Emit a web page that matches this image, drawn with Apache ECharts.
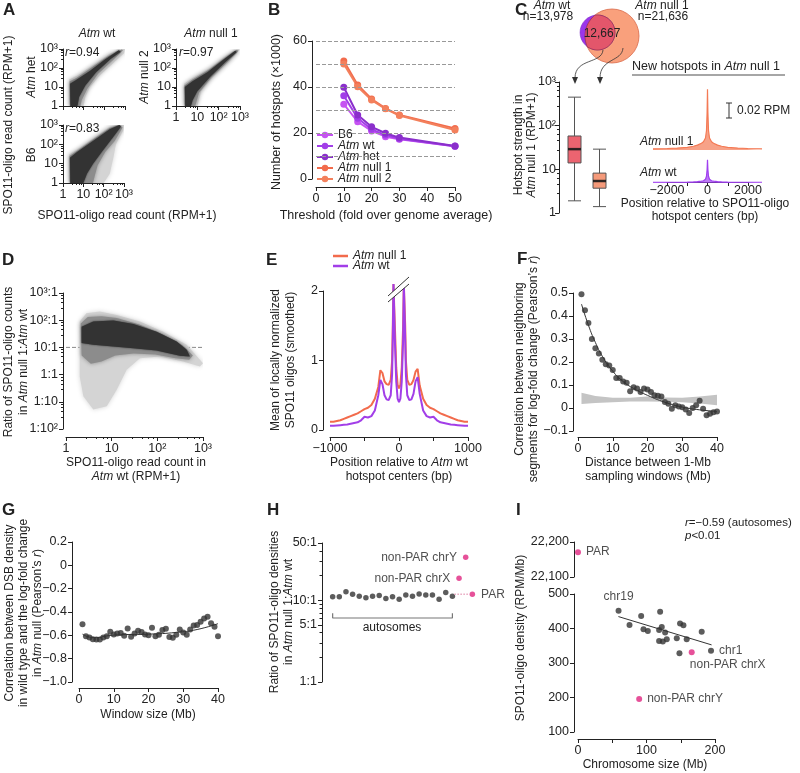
<!DOCTYPE html>
<html>
<head>
<meta charset="utf-8">
<script src="https://cdn.jsdelivr.net/npm/echarts@6/dist/echarts.min.js"></script>
<style>
  html, body { margin: 0; padding: 0; background: #fff; }
  #chart { width: 800px; height: 773px; }
</style>
</head>
<body>
<div id="chart"></div>
<script>
const FONT = 'Liberation Sans, Arial, Helvetica, sans-serif'
const INK = '#222'
const ORANGE = '#f26b4c'
const PURPLE = '#a23ee8'
const PINK = '#e0257f'
const DOT = '#333'
const CORE = '#333'
const MID = '#8c8c8c'
const HALO = '#d4d4d4'

// ---- A: read-count clouds (outline of dense core, mid and sparse halo, RPM+1) ----
const aHetCore = [[2.3, 1], [2.2, 15], [4, 22], [20, 70], [100, 260], [500, 850], [620, 720], [200, 300], [40, 60], [12, 12], [6, 3], [5, 1]]
const aHetMid = [[2.2, 1], [2.1, 20], [4.5, 30], [25, 110], [150, 420], [700, 950], [800, 850], [250, 250], [50, 50], [15, 8], [8, 2], [7, 1]]
const aHetHalo = [[2.1, 1], [2.0, 25], [5, 40], [30, 150], [200, 600], [800, 1000], [1000, 1000], [900, 600], [300, 200], [60, 40], [20, 10], [12, 3], [10, 1]]
const aNullCore = [[2.7, 1], [2.6, 10], [6, 20], [30, 60], [150, 250], [600, 800], [700, 700], [200, 200], [40, 35], [10, 6], [6, 2], [5, 1]]
const aNullMid = [[2.6, 1], [2.5, 12], [6, 25], [35, 80], [180, 320], [700, 900], [850, 800], [250, 200], [45, 32], [12, 5], [8, 1]]
const aNullHalo = [[2.5, 1], [2.4, 15], [6, 30], [40, 100], [200, 400], [800, 1000], [1000, 900], [300, 200], [50, 30], [15, 6], [10, 1]]
const aB6Core = [[2.3, 1], [2.2, 20], [5, 40], [30, 150], [200, 600], [600, 1000], [700, 800], [300, 250], [80, 40], [30, 10], [15, 3], [10, 1]]
const aB6Mid = [[2.2, 1], [2.1, 25], [5.5, 50], [35, 200], [200, 700], [600, 1000], [850, 750], [350, 150], [120, 40], [50, 8], [35, 2], [30, 1]]
const aB6Halo = [[2.1, 1], [2.0, 30], [6, 60], [40, 250], [200, 800], [600, 1000], [1000, 1000], [900, 500], [400, 100], [300, 20], [200, 3], [100, 1]]

// ---- B: number of hotspots (x1000) ----
const thresholds = [10, 15, 20, 25, 30, 50]
const bB6 = [32.5, 24.9, 20.9, 18.4, 17.3, 14.2]
const bAtmWt = [36.2, 26.4, 21.6, 19.1, 17.5, 14.2]
const bAtmHet = [39.9, 27.8, 22.7, 19.9, 18.0, 14.3]
const bAtmNull1 = [51.3, 40.9, 34.8, 30.7, 27.8, 22.0]
const bAtmNull2 = [50.0, 40.1, 34.3, 30.5, 27.6, 21.3]
const bGuides = [10, 20, 30, 40, 50, 60]

// ---- C: box stats [min, Q1, median, Q3, max] and new-hotspot profiles ----
const boxCats = ['shared', 'new']
const boxStats = [[1.9, 14, 29, 58, 450], [1.4, 3.7, 5.4, 8.2, 29]]
const boxColors = ['#ec6470', '#f59a7a']
const cPos = [-2700, -2000, -1500, -1000, -700, -500, -300, -200, -100, -50, -20, 0, 20, 50, 100, 200, 300, 500, 700, 1000, 1500, 2000, 2700]
const cNull = [0.0015, 0.002, 0.0025, 0.0035, 0.005, 0.0065, 0.009, 0.011, 0.016, 0.026, 0.05, 0.081, 0.05, 0.026, 0.016, 0.011, 0.009, 0.0065, 0.005, 0.0035, 0.0025, 0.002, 0.0015]
const cWt = [0.001, 0.001, 0.001, 0.0012, 0.0015, 0.0018, 0.0025, 0.003, 0.005, 0.009, 0.018, 0.031, 0.018, 0.009, 0.005, 0.003, 0.0025, 0.0018, 0.0015, 0.0012, 0.001, 0.001, 0.001]

// ---- D: ratio cloud (x: RPM+1 in wt, y: null1/wt ratio) ----
const dCore = [[2.2, 58], [3.96, 89], [10.9, 97], [29.7, 73], [96, 38], [264, 16.5], [437, 8.2], [517, 4.6], [312, 4.9], [96, 7.7], [29.7, 9.4], [10.9, 10.8], [3.96, 12.4], [2.2, 14.4]]
const dMid = [[2.1, 75], [3, 130], [6, 140], [13, 120], [40, 70], [130, 30], [350, 12], [600, 5], [500, 3.5], [250, 4], [90, 5.5], [30, 6], [12, 5], [6, 3], [3.5, 2.5], [2.2, 5]]
const dHalo = [[2.0, 89], [2.8, 180], [5.5, 207], [12.9, 156], [41.6, 89], [135, 38], [437, 12.4], [1000, 2.6], [855, 2], [369, 3.05], [114, 4.6], [41.6, 4.0], [21.3, 1.5], [12.9, 0.28], [7.8, 0.068], [3.96, 0.052], [2.4, 0.16], [2.0, 0.86]]

// ---- E: locally normalized SPO11 oligos ----
const ePos = [-1000, -950, -900, -850, -800, -750, -700, -650, -600, -550, -500, -450, -400, -350, -300, -270, -240, -210, -180, -150, -120, -100, -90, -80, -70, -60, -40, -20, 0,
  20, 40, 60, 70, 80, 90, 100, 120, 150, 180, 210, 240, 270, 300, 350, 400, 450, 500, 550, 600, 650, 700, 750, 800, 850, 900, 950, 1000]
const eWt = [0.06, 0.06, 0.065, 0.07, 0.075, 0.08, 0.09, 0.1, 0.11, 0.14, 0.19, 0.18, 0.2, 0.28, 0.5, 0.72, 0.66, 0.5, 0.44, 0.43, 0.5, 0.8, 1.3, 2.1, 2.1, 1.3, 0.7, 0.45, 0.4,
  0.45, 0.7, 1.3, 2.1, 2.1, 1.3, 0.8, 0.5, 0.43, 0.44, 0.52, 0.7, 0.76, 0.52, 0.28, 0.2, 0.18, 0.19, 0.14, 0.11, 0.1, 0.09, 0.08, 0.075, 0.07, 0.065, 0.06, 0.06]
const eNull = [0.12, 0.12, 0.13, 0.14, 0.16, 0.18, 0.2, 0.22, 0.24, 0.27, 0.3, 0.32, 0.36, 0.45, 0.62, 0.86, 0.82, 0.7, 0.66, 0.65, 0.72, 1.0, 1.5, 2.1, 2.1, 1.5, 0.9, 0.65, 0.6,
  0.65, 0.9, 1.5, 2.1, 2.1, 1.5, 1.0, 0.72, 0.65, 0.66, 0.72, 0.84, 0.88, 0.64, 0.45, 0.36, 0.32, 0.3, 0.27, 0.24, 0.22, 0.2, 0.18, 0.16, 0.14, 0.13, 0.12, 0.12]

// ---- F: neighbour correlation vs distance ----
const fDist = [1, 2, 3, 4, 5, 6, 7, 8, 9, 10, 11, 12, 13, 14, 15, 16, 17, 18, 19, 20, 21, 22, 23, 24, 25, 26, 27, 28, 29, 30, 31, 32, 33, 34, 35, 36, 37, 38, 39, 40]
const fCorr = [0.495, 0.425, 0.37, 0.30, 0.26, 0.237, 0.21, 0.19, 0.185, 0.165, 0.13, 0.13, 0.115, 0.11, 0.073, 0.09, 0.085, 0.07, 0.085, 0.08,
  0.07, 0.055, 0.053, 0.05, 0.026, 0.018, -0.003, 0.012, 0.006, 0.003, -0.006, -0.022, 0.0, 0.012, 0.032, -0.003, -0.032, -0.025, -0.018, -0.015]
const fFitX = [1, 3, 5, 7, 10, 13, 16, 20, 25, 30, 35, 40]
const fFitY = [0.452, 0.36, 0.285, 0.225, 0.16, 0.115, 0.085, 0.055, 0.025, 0.004, -0.008, -0.015]
const fBandX = [1, 5, 10, 15, 20, 25, 30, 35, 40]
const fBandLo = [0.017, 0.022, 0.025, 0.028, 0.028, 0.027, 0.025, 0.02, 0.012]
const fBandHi = [0.066, 0.052, 0.045, 0.045, 0.05, 0.046, 0.045, 0.05, 0.058]

// ---- G: correlation vs window size ----
const gWin = [1, 2, 3, 4, 5, 6, 7, 8, 9, 10, 11, 12, 13, 14, 15, 16, 17, 18, 19, 20, 21, 22, 23, 24, 25, 26, 27, 28, 29, 30, 31, 32, 33, 34, 35, 36, 37, 38, 39, 40]
const gCorr = [-0.506, -0.607, -0.618, -0.633, -0.636, -0.636, -0.618, -0.607, -0.57, -0.592, -0.584, -0.581, -0.604, -0.541, -0.612, -0.584, -0.56, -0.572, -0.592, -0.6,
  -0.535, -0.607, -0.595, -0.555, -0.544, -0.615, -0.621, -0.595, -0.55, -0.575, -0.595, -0.55, -0.515, -0.512, -0.483, -0.455, -0.44, -0.497, -0.527, -0.607]
const gFitX = [1, 3, 5, 8, 12, 20, 28, 34, 40]
const gFitY = [-0.59, -0.615, -0.62, -0.605, -0.595, -0.59, -0.575, -0.55, -0.5]

// ---- H: ratio of densities per chromosome ----
const hAutoPos = [1, 2, 3, 4, 5, 6, 7, 8, 9, 10, 11, 12, 13, 14, 15, 16, 17, 18, 19]
const hAutoRatio = [11.0, 11.0, 12.7, 11.8, 11.2, 10.7, 11.2, 11.4, 10.5, 11.0, 10.3, 11.6, 11.2, 11.9, 11.6, 11.6, 10.3, 12.4, 11.2]
const hSexNames = ['non-PAR chrX', 'non-PAR chrY', 'PAR']
const hSexPos = [20, 21, 22]
const hSexRatio = [18.5, 33.4, 11.8]

// ---- I: density vs chromosome size ----
const iAutoNames = ['chr19', '', '', '', '', '', '', '', '', '', '', '', '', '', '', '', '', '', 'chr1']
const iAutoSize = [59.2, 75.2, 92.2, 95.6, 101.9, 118.4, 119.9, 122.3, 118.4, 123.8, 127.2, 129.6, 144.2, 149.0, 153.9, 158.7, 148.1, 180.6, 194.2]
const iAutoDensity = [451.8, 410.4, 436.4, 397.8, 393.0, 395.9, 448.9, 404.5, 364.1, 362.2, 388.2, 369.0, 371.8, 414.2, 409.4, 369.0, 328.5, 390.8, 335.7]
const iParSize = 0
const iParDensity = 22171
const iSexNames = ['non-PAR chrX', 'non-PAR chrY']
const iSexSize = [166, 89.3]
const iSexDensity = [331.3, 195.4]
const iFitX = [59, 195]
const iFitY = [434.6, 352.5]

// ---------- helpers ----------
const SUP = ['', '', '²', '³']
const expLabel = e => e === 0 ? '1' : e === 1 ? '10' : '10' + SUP[e]
const pow10 = v => expLabel(Math.round(Math.log10(v)))
const ratioLabel = v => {
  const e = Math.round(Math.log10(v))
  return e >= 0 ? expLabel(e) + ':1' : '1:' + expLabel(-e)
}
const minus = v => String(v).replace('-', '\u2212')
const dec1 = v => {
  const r = Math.round(v * 10) / 10
  if (r === 0) return '0'
  return (r < 0 ? '\u2212' : '') + Math.abs(r).toFixed(1)
}
const it = s => s.replace(/Atm/g, '{i|Atm}')
const pairs = (xs, ys) => xs.map((x, i) => [x, ys[i]])

function merge(a, b) {
  const out = Object.assign({}, a)
  for (const k in b) {
    const v = b[k]
    if (v && typeof v === 'object' && !Array.isArray(v) && out[k] && typeof out[k] === 'object' && !Array.isArray(out[k])) out[k] = merge(out[k], v)
    else out[k] = v
  }
  return out
}
function ax(extra) {
  return merge({
    axisLine: { show: true, onZero: false, lineStyle: { color: INK, width: 1 } },
    axisTick: { show: true, length: 4, lineStyle: { color: INK } },
    axisLabel: { color: INK, fontSize: 12.5, fontFamily: FONT, margin: 5 },
    splitLine: { show: false }
  }, extra)
}
const logMinor = { show: true, splitNumber: 5, length: 2, lineStyle: { color: INK } }

function poly(i, pts, fill, blur) {
  return {
    type: 'custom', xAxisIndex: i, yAxisIndex: i, silent: true, clip: true, z: 2,
    data: [pts[0]],
    renderItem: (params, api) => ({
      type: 'polygon',
      shape: { points: pts.map(p => api.coord(p)) },
      style: { fill, shadowBlur: blur, shadowColor: fill }
    })
  }
}

function txt(x, y, text, o = {}) {
  const size = o.size || 12
  return {
    type: 'text', x, y, rotation: o.rot ? Math.PI / 2 : 0, silent: true, z: 100,
    style: {
      text, fontSize: size, fontFamily: FONT, fontWeight: o.bold ? 'bold' : 'normal', fill: INK,
      align: o.align || 'center', verticalAlign: o.va || 'middle', lineHeight: o.lh || 14,
      rich: { i: { fontStyle: 'italic', fontSize: size, fontFamily: FONT, fill: INK, lineHeight: o.lh || 14 } }
    }
  }
}
const seg = (x1, y1, x2, y2, color = '#333', w = 1) => ({ type: 'line', silent: true, z: 100, shape: { x1, y1, x2, y2 }, style: { stroke: color, lineWidth: w } })

// lens shape for the Venn overlap
function lens(c1, c2) {
  const pts = []
  for (const [a, b] of [[c1, c2], [c2, c1]]) {
    for (let k = 0; k < 120; k++) {
      const t = k / 120 * Math.PI * 2
      const p = [a.x + a.r * Math.cos(t), a.y + a.r * Math.sin(t)]
      if (Math.hypot(p[0] - b.x, p[1] - b.y) <= b.r + 0.01) pts.push(p)
    }
  }
  const cx = pts.reduce((s, p) => s + p[0], 0) / pts.length
  const cy = pts.reduce((s, p) => s + p[1], 0) / pts.length
  return pts.sort((p, q) => Math.atan2(p[1] - cy, p[0] - cx) - Math.atan2(q[1] - cy, q[0] - cx))
}

// ---------- layout ----------
const grids = [
  { left: 63, top: 49, width: 62, height: 57 },    // 0 A het vs wt
  { left: 176, top: 49, width: 64, height: 57 },   // 1 A null2 vs null1
  { left: 63, top: 125, width: 61, height: 58 },   // 2 A B6 vs wt
  { left: 316, top: 41, width: 139, height: 138 }, // 3 B
  { left: 562, top: 82, width: 50, height: 131 },  // 4 C box
  { left: 653, top: 80, width: 109, height: 70 },  // 5 C null profile
  { left: 653, top: 150, width: 109, height: 33 }, // 6 C wt profile
  { left: 667, top: 150, width: 81, height: 32 },  // 7 C profile axis
  { left: 66, top: 293, width: 137, height: 136 }, // 8 D
  { left: 330, top: 291, width: 138, height: 139 },// 9 E
  { left: 578, top: 293, width: 139, height: 138 },// 10 F
  { left: 79, top: 542, width: 139, height: 140 }, // 11 G
  { left: 326, top: 543, width: 153, height: 139 },// 12 H
  { left: 578, top: 542, width: 137, height: 35 }, // 13 I upper
  { left: 578, top: 594, width: 137, height: 138 } // 14 I lower
]

const xAxis = [
  ax({ gridIndex: 0, type: 'log', min: 1, max: 1000, splitNumber: 3, axisLabel: { show: false }, minorTick: logMinor }),
  ax({ gridIndex: 1, type: 'log', min: 1, max: 1000, splitNumber: 3, axisLabel: { formatter: pow10 }, minorTick: logMinor }),
  ax({ gridIndex: 2, type: 'log', min: 1, max: 1000, splitNumber: 3, axisLabel: { formatter: pow10 }, minorTick: logMinor }),
  ax({ gridIndex: 3, type: 'value', min: 0, max: 50, interval: 10, offset: 8 }),
  { gridIndex: 4, type: 'category', data: boxCats, show: false },
  { gridIndex: 5, type: 'value', min: -2700, max: 2700, show: false },
  { gridIndex: 6, type: 'value', min: -2700, max: 2700, show: false },
  ax({ gridIndex: 7, type: 'value', min: -2000, max: 2000, interval: 1000, axisLabel: { margin: 2, formatter: v => v % 2000 === 0 ? minus(v) : '' } }),
  ax({ gridIndex: 8, type: 'log', min: 1, max: 1000, splitNumber: 3, offset: 8, axisLabel: { formatter: pow10 }, minorTick: logMinor }),
  ax({ gridIndex: 9, type: 'value', min: -1000, max: 1000, interval: 500, offset: 7, axisLabel: { formatter: v => v % 1000 === 0 ? minus(v) : '' } }),
  ax({ gridIndex: 10, type: 'value', min: 0, max: 40, interval: 10, offset: 6 }),
  ax({ gridIndex: 11, type: 'value', min: 0, max: 40, interval: 10, offset: 6 }),
  { gridIndex: 12, type: 'value', min: 0, max: 23, show: false },
  { gridIndex: 13, type: 'value', min: 0, max: 200, show: false },
  ax({ gridIndex: 14, type: 'value', min: 0, max: 200, interval: 50, offset: 7, axisLabel: { formatter: v => v % 100 === 0 ? String(v) : '' } })
]

const yAxis = [
  ax({ gridIndex: 0, type: 'log', min: 1, max: 1000, splitNumber: 3, axisLabel: { formatter: pow10 }, minorTick: logMinor }),
  ax({ gridIndex: 1, type: 'log', min: 1, max: 1000, splitNumber: 3, axisLabel: { formatter: pow10 }, minorTick: logMinor }),
  ax({ gridIndex: 2, type: 'log', min: 1, max: 1000, splitNumber: 3, axisLabel: { formatter: pow10 }, minorTick: logMinor }),
  ax({ gridIndex: 3, type: 'value', min: 0, max: 60, interval: 20, offset: 4 }),
  ax({ gridIndex: 4, type: 'log', min: 1, max: 1000, splitNumber: 3, offset: 3, axisLabel: { margin: 3, formatter: pow10 }, minorTick: logMinor }),
  { gridIndex: 5, type: 'value', min: 0, max: 0.0933, show: false },
  { gridIndex: 6, type: 'value', min: 0, max: 0.044, show: false },
  { gridIndex: 7, type: 'value', min: 0, max: 1, show: false },
  ax({ gridIndex: 8, type: 'log', min: 0.01, max: 1000, splitNumber: 5, offset: 3, axisLabel: { formatter: ratioLabel }, minorTick: logMinor }),
  ax({ gridIndex: 9, type: 'value', min: 0, max: 2, interval: 1, offset: 7 }),
  ax({ gridIndex: 10, type: 'value', min: -0.1, max: 0.5, interval: 0.1, offset: 5, axisLabel: { formatter: dec1 } }),
  ax({ gridIndex: 11, type: 'value', min: -1, max: 0.2, interval: 0.2, offset: 7, axisLabel: { formatter: dec1 } }),
  ax({ gridIndex: 12, type: 'log', position: 'left', min: 1, max: 50, offset: 4,
    axisLabel: { customValues: [1, 5, 10, 50], formatter: v => Math.round(v) + ':1' }, axisTick: { customValues: [1, 5, 10, 50] } }),
  ax({ gridIndex: 13, type: 'value', min: 22100, max: 22200, interval: 100, offset: 4, axisLabel: { formatter: v => v.toLocaleString('en-US') } }),
  ax({ gridIndex: 14, type: 'value', min: 100, max: 500, interval: 100, offset: 4 }),
  ax({ gridIndex: 12, type: 'log', position: 'left', min: 1, max: 50, offset: 4, axisLine: { show: false }, axisLabel: { show: false },
    axisTick: { length: 2.5, customValues: [2, 3, 4, 6, 7, 8, 9, 20, 30, 40] } })
]

// ---------- series ----------
const series = []
// A
;[[aHetHalo, aHetMid, aHetCore], [aNullHalo, aNullMid, aNullCore], [aB6Halo, aB6Mid, aB6Core]].forEach(([halo, mid, core], i) => {
  series.push(poly(i, halo, HALO, 5), poly(i, mid, MID, 4), poly(i, core, CORE, 2))
})

// B
series.push({
  type: 'line', xAxisIndex: 3, yAxisIndex: 3, data: [], silent: true, z: 1,
  markLine: { silent: true, symbol: 'none', label: { show: false }, animation: false,
    lineStyle: { type: 'dashed', color: '#999', width: 1 }, data: bGuides.map(v => ({ yAxis: v })) }
})
const bSets = [
  ['B6', bB6, '#c653f2'], ['Atm wt', bAtmWt, '#a23ee8'], ['Atm het', bAtmHet, '#8a2fcb'],
  ['Atm null 1', bAtmNull1, '#f26b4c'], ['Atm null 2', bAtmNull2, '#f3805c']
]
bSets.forEach(([name, vals, color]) => series.push({
  type: 'line', name, xAxisIndex: 3, yAxisIndex: 3, data: pairs(thresholds, vals),
  symbol: 'circle', symbolSize: 7, lineStyle: { width: 2, color }, itemStyle: { color }, z: 3
}))

// C
series.push({
  type: 'boxplot', xAxisIndex: 4, yAxisIndex: 4, boxWidth: [13, 13],
  data: boxStats.map((s, i) => ({ value: s, itemStyle: { color: boxColors[i], borderColor: '#555', borderWidth: 1 } }))
})
series.push({
  type: 'scatter', xAxisIndex: 4, yAxisIndex: 4, symbol: 'rect', symbolSize: [13, 2.5], z: 5,
  itemStyle: { color: '#111' }, data: boxCats.map((c, i) => [c, boxStats[i][2]])
})
series.push({
  type: 'line', xAxisIndex: 5, yAxisIndex: 5, data: pairs(cPos, cNull), symbol: 'none',
  lineStyle: { width: 1.2, color: '#f47a55' }, areaStyle: { color: '#f47a55', opacity: 0.7 }
})
series.push({
  type: 'line', xAxisIndex: 6, yAxisIndex: 6, data: pairs(cPos, cWt), symbol: 'none',
  lineStyle: { width: 1.2, color: '#a040f0' }, areaStyle: { color: '#a040f0', opacity: 0.7 }
})

// D
series.push({
  type: 'line', xAxisIndex: 8, yAxisIndex: 8, data: [[1, 10], [1000, 10]], symbol: 'none', silent: true,
  lineStyle: { type: 'dashed', color: '#888', width: 1 }, z: 1
})
series.push(poly(8, dHalo, HALO, 5), poly(8, dMid, MID, 4), poly(8, dCore, CORE, 2))

// E
series.push({
  type: 'line', name: 'E Atm null 1', xAxisIndex: 9, yAxisIndex: 9, data: pairs(ePos, eNull), symbol: 'none', clip: false,
  lineStyle: { width: 2, color: ORANGE }, itemStyle: { color: ORANGE }
})
series.push({
  type: 'line', name: 'E Atm wt', xAxisIndex: 9, yAxisIndex: 9, data: pairs(ePos, eWt), symbol: 'none', clip: false,
  lineStyle: { width: 2, color: PURPLE }, itemStyle: { color: PURPLE }
})

// F
const fBand = pairs(fBandX, fBandHi).concat(pairs(fBandX, fBandLo).reverse())
series.push(poly(10, fBand, '#c4c4c4', 0))
series.push({
  type: 'line', xAxisIndex: 10, yAxisIndex: 10, data: pairs(fFitX, fFitY), symbol: 'none', smooth: true,
  lineStyle: { width: 1, color: '#333' }
})
series.push({
  type: 'scatter', xAxisIndex: 10, yAxisIndex: 10, data: pairs(fDist, fCorr), symbolSize: 6, itemStyle: { color: DOT }
})

// G
series.push({
  type: 'line', xAxisIndex: 11, yAxisIndex: 11, data: pairs(gFitX, gFitY), symbol: 'none', smooth: true,
  lineStyle: { width: 1, color: '#333' }
})
series.push({
  type: 'scatter', xAxisIndex: 11, yAxisIndex: 11, data: pairs(gWin, gCorr), symbolSize: 6, itemStyle: { color: DOT }
})

// H
series.push({
  type: 'line', xAxisIndex: 12, yAxisIndex: 12, symbol: 'none', silent: true,
  data: [[1, 6.9], [1, 6.06], [19, 6.06], [19, 6.9]], lineStyle: { color: '#777', width: 1.2 }
})
series.push({
  type: 'line', xAxisIndex: 12, yAxisIndex: 12, symbol: 'none', silent: true,
  data: [[19.3, hSexRatio[2]], [21.5, hSexRatio[2]]], lineStyle: { color: '#e9a7c0', width: 1.5, type: 'dotted' }
})
series.push({
  type: 'scatter', xAxisIndex: 12, yAxisIndex: 12, data: pairs(hAutoPos, hAutoRatio), symbolSize: 5.5, itemStyle: { color: DOT }
})
series.push({
  type: 'scatter', xAxisIndex: 12, yAxisIndex: 12, symbolSize: 5.5, itemStyle: { color: PINK },
  data: hSexPos.map((x, i) => ({
    value: [x, hSexRatio[i]],
    label: { show: true, position: i === 2 ? 'right' : 'left', distance: 6, formatter: hSexNames[i], fontSize: 12, fontFamily: FONT, color: INK }
  }))
})

// I
series.push({
  type: 'scatter', xAxisIndex: 13, yAxisIndex: 13, symbolSize: 6, itemStyle: { color: PINK },
  data: [{ value: [iParSize, iParDensity], label: { show: true, position: 'right', distance: 5, formatter: 'PAR', fontSize: 12, fontFamily: FONT, color: INK } }]
})
series.push({
  type: 'line', xAxisIndex: 14, yAxisIndex: 14, data: pairs(iFitX, iFitY), symbol: 'none', lineStyle: { width: 1, color: '#333' }
})
series.push({
  type: 'scatter', xAxisIndex: 14, yAxisIndex: 14, symbolSize: 6, itemStyle: { color: DOT },
  data: iAutoSize.map((x, i) => ({
    value: [x, iAutoDensity[i]],
    label: { show: iAutoNames[i] !== '', position: i === 0 ? 'top' : 'right', distance: 5, formatter: iAutoNames[i], fontSize: 12, fontFamily: FONT, color: INK }
  }))
})
series.push({
  type: 'scatter', xAxisIndex: 14, yAxisIndex: 14, symbolSize: 6, itemStyle: { color: PINK },
  data: iSexSize.map((x, i) => ({
    value: [x, iSexDensity[i]],
    label: i === 0
      ? { show: true, position: 'bottom', offset: [36, -2], formatter: iSexNames[i], fontSize: 12, fontFamily: FONT, color: INK }
      : { show: true, position: 'right', distance: 5, formatter: iSexNames[i], fontSize: 12, fontFamily: FONT, color: INK }
  }))
})

// ---------- annotations ----------
const gfx = []
;[['A', 3, 3], ['B', 268, 3], ['C', 515, 3], ['D', 2, 253], ['E', 266, 253], ['F', 517, 252], ['G', 2, 503], ['H', 267, 503], ['I', 516, 503]]
  .forEach(([t, x, y]) => gfx.push(txt(x, y, t, { bold: true, size: 17, align: 'left', va: 'top' })))

// A
gfx.push(txt(9, 125, 'SPO11-oligo read count (RPM+1)', { rot: true }))
gfx.push(txt(127, 216, 'SPO11-oligo read count (RPM+1)'))
gfx.push(txt(97, 34, it('Atm wt')), txt(211, 34, it('Atm null 1')))
gfx.push(txt(32, 77, it('Atm het'), { rot: true }), txt(145, 77, it('Atm null 2'), { rot: true }), txt(32, 155, 'B6', { rot: true }))
gfx.push(txt(65, 53, '{i|r}=0.94', { align: 'left' }), txt(179, 53, '{i|r}=0.97', { align: 'left' }), txt(65, 129, '{i|r}=0.83', { align: 'left' }))

// B
gfx.push(txt(277, 112, 'Number of hotspots (×1000)', { rot: true, size: 12.5 }))
gfx.push(txt(386, 216, 'Threshold (fold over genome average)', { size: 12.5 }))

// C Venn
const cNullCircle = { x: 612, y: 36, r: 27 }
const cWtCircle = { x: 597.5, y: 32.5, r: 17.5 }
gfx.push({ type: 'circle', silent: true, z: 50, shape: { cx: cNullCircle.x, cy: cNullCircle.y, r: cNullCircle.r }, style: { fill: '#f9a07c', stroke: '#d9694a', lineWidth: 0.8 } })
gfx.push({ type: 'circle', silent: true, z: 51, shape: { cx: cWtCircle.x, cy: cWtCircle.y, r: cWtCircle.r }, style: { fill: '#9b35ea', stroke: '#7a2ac0', lineWidth: 0.5 } })
gfx.push({ type: 'polygon', silent: true, z: 52, shape: { points: lens(cNullCircle, cWtCircle) }, style: { fill: '#e3566b', stroke: '#8a2a3a', lineWidth: 0.6 } })
gfx.push(txt(602, 34, '12,667'))
gfx.push(txt(552, 6, it('Atm wt')), txt(548, 17, 'n=13,978'))
gfx.push(txt(662, 6, it('Atm null 1')), txt(663, 17, 'n=21,636'))
;[[603, 50, 575], [623, 48, 600]].forEach(([sx, sy, ex]) => {
  gfx.push({ type: 'bezierCurve', silent: true, z: 60,
    shape: { x1: sx, y1: sy, cpx1: sx - 1, cpy1: sy + 14, cpx2: ex, cpy2: 58, x2: ex, y2: 78 },
    style: { stroke: '#333', lineWidth: 0.8, fill: null } })
  gfx.push({ type: 'polygon', silent: true, z: 60, shape: { points: [[ex - 3, 77], [ex + 3, 77], [ex, 84]] }, style: { fill: '#333' } })
})
gfx.push(txt(525, 145, 'Hotspot strength in\n{i|Atm} null 1 (RPM+1)', { rot: true, lh: 13 }))
gfx.push(txt(632, 67, 'New hotspots in {i|Atm} null 1', { align: 'left', size: 12.5 }))
gfx.push(seg(632, 75, 785, 75, '#888', 1.5))
gfx.push(txt(640, 142, it('Atm null 1'), { align: 'left' }), txt(640, 173, it('Atm wt'), { align: 'left' }))
gfx.push(seg(729, 103, 729, 118), seg(726, 103, 732, 103), seg(726, 118, 732, 118))
gfx.push(txt(737, 111, '0.02 RPM', { align: 'left' }))
gfx.push(txt(705, 210, 'Position relative to SPO11-oligo\nhotspot centers (bp)', { lh: 13 }))

// D
gfx.push(txt(16, 362, 'Ratio of SPO11-oligo counts\nin {i|Atm} null 1:{i|Atm} wt', { rot: true, lh: 15 }))
gfx.push(txt(136, 470, 'SPO11-oligo read count in\n{i|Atm} wt (RPM+1)', { lh: 14 }))

// E
gfx.push(txt(283, 360, 'Mean of locally normalized\nSPO11 oligos (smoothed)', { rot: true, lh: 15 }))
gfx.push(txt(399, 470, 'Position relative to {i|Atm} wt\nhotspot centers (bp)', { lh: 14 }))
gfx.push({ type: 'polygon', silent: true, z: 90, shape: { points: [[388, 296], [409, 277], [409, 284], [388, 302]] }, style: { fill: '#fff' } })
gfx.push(seg(388, 296, 409, 277), seg(388, 302, 409, 284))

// F
gfx.push(txt(527, 369, 'Correlation between neighboring\nsegments for log-fold change (Pearson’s {i|r})', { rot: true, lh: 14 }))
gfx.push(txt(648, 470, 'Distance between 1-Mb\nsampling windows (Mb)', { lh: 14 }))

// G
gfx.push(txt(24, 613, 'Correlation between DSB density\nin wild type and the log-fold change\nin {i|Atm} null (Pearson’s {i|r})', { rot: true, lh: 14 }))
gfx.push(txt(148, 715, 'Window size (Mb)'))

// H
gfx.push(txt(282, 612, 'Ratio of SPO11-oligo densities\nin {i|Atm} null 1:{i|Atm} wt', { rot: true, lh: 14 }))
gfx.push(txt(392, 628, 'autosomes'))

// I
gfx.push(txt(521, 638, 'SPO11-oligo density (RPM/Mb)', { rot: true }))
gfx.push(txt(645, 765, 'Chromosome size (Mb)'))
gfx.push(txt(685, 523, '{i|r}=\u22120.59 (autosomes)', { align: 'left', size: 11.5 }))
gfx.push(txt(685, 536, '{i|p}<0.01', { align: 'left', size: 11.5 }))

const legendText = { fontSize: 12, fontFamily: FONT, color: INK, lineHeight: 9, rich: { i: { fontStyle: 'italic', fontSize: 12, fontFamily: FONT, color: INK, lineHeight: 9 } } }

const option = {
  animation: false,
  backgroundColor: '#fff',
  textStyle: { fontFamily: FONT, color: INK },
  grid: grids,
  xAxis,
  yAxis,
  legend: [
    {
      data: bSets.map(s => s[0]), left: 316, top: 129, orient: 'vertical', padding: 0,
      itemWidth: 16, itemHeight: 8, itemGap: -1, selectedMode: false,
      textStyle: legendText, formatter: n => it(n)
    },
    {
      data: ['E Atm null 1', 'E Atm wt'], left: 333, top: 250, orient: 'vertical', padding: 0,
      icon: 'rect', itemWidth: 15, itemHeight: 2.5, itemGap: -2, selectedMode: false,
      textStyle: legendText, formatter: n => it(n.replace(/^E /, ''))
    }
  ],
  series,
  graphic: gfx
}

const chart = echarts.init(document.getElementById('chart'), null, { renderer: 'canvas' })
chart.setOption(option)
</script>
</body>
</html>
